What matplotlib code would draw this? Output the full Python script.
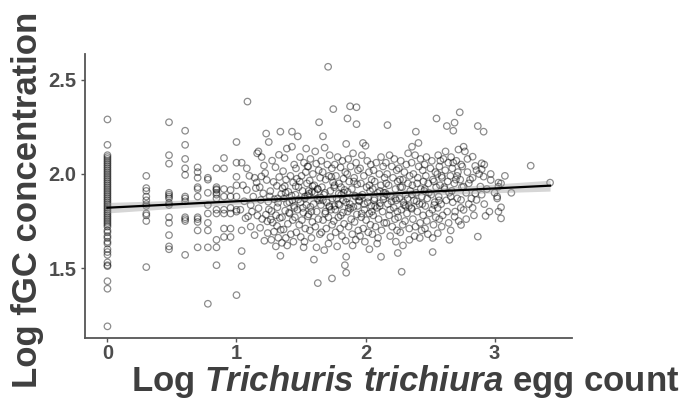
import numpy as np
import matplotlib.pyplot as plt

# ---- data ----
# discrete columns at log10(1..10) egg counts
col_x = [0.0, 0.301, 0.477, 0.602, 0.699, 0.778, 0.845, 0.903, 0.954, 1.0]
col_y = [
    [2.29, 2.155, 2.10, 2.09, 2.08, 2.07, 2.06, 2.05, 2.04, 2.03,
     2.02, 2.01, 2.00, 1.99, 1.98, 1.97, 1.96, 1.95, 1.94, 1.93, 1.92, 1.91,
     1.90, 1.89, 1.88, 1.87, 1.86, 1.85, 1.84, 1.83, 1.82, 1.81, 1.80, 1.79,
     1.78, 1.77, 1.76, 1.75, 1.74, 1.73, 1.72, 1.70, 1.69, 1.67, 1.66, 1.64,
     1.63, 1.60, 1.585, 1.57, 1.53, 1.515, 1.51, 1.43, 1.39, 1.19],
    [1.99, 1.925, 1.91, 1.88, 1.86, 1.84, 1.83, 1.79, 1.78, 1.75, 1.505],
    [2.275, 2.10, 2.055, 1.90, 1.89, 1.88, 1.87, 1.845, 1.835, 1.77, 1.74,
     1.675, 1.615, 1.60],
    [2.23, 2.155, 2.08, 2.03, 1.995, 1.88, 1.87, 1.855, 1.77, 1.76, 1.75, 1.57],
    [2.035, 2.01, 1.98, 1.93, 1.92, 1.88, 1.77, 1.76, 1.745, 1.70, 1.61],
    [1.98, 1.97, 1.90, 1.835, 1.79, 1.74, 1.70, 1.61, 1.31],
    [2.03, 1.93, 1.92, 1.915, 1.90, 1.89, 1.87, 1.81, 1.79, 1.65, 1.61, 1.515],
    [2.085, 2.03, 1.92, 1.88, 1.81, 1.79, 1.71, 1.665],
    [1.915, 1.88, 1.82, 1.79, 1.71, 1.665],
    [2.17, 2.06, 1.985, 1.94, 1.88, 1.81, 1.80, 1.356],
]

# continuous part of the cloud (x > 1)
cloud_x = [
    1.04, 1.08, 1.10, 1.14, 1.05, 1.08, 1.13, 1.085, 1.06, 1.11, 1.12, 1.04,
    1.14, 1.04, 1.04, 1.07, 1.11, 1.15, 1.03, 1.09,
    1.17, 1.195, 1.18, 1.16, 1.23, 1.25, 1.213, 1.222, 1.156, 1.207, 1.188,
    1.246, 1.171, 1.228, 1.199, 1.239, 1.183, 1.242, 1.216, 1.234, 1.162,
    1.251, 1.193,
    1.34, 1.276, 1.302, 1.331, 1.287, 1.313, 1.262, 1.347, 1.293, 1.322,
    1.271, 1.306, 1.336, 1.281, 1.314, 1.343, 1.27, 1.305, 1.34, 1.324,
    1.291, 1.352, 1.258, 1.329, 1.317, 1.266,
    1.39, 1.43, 1.43, 1.372, 1.447, 1.361, 1.418, 1.384, 1.439, 1.356, 1.402,
    1.427, 1.368, 1.391, 1.445, 1.377, 1.412, 1.353, 1.436, 1.398, 1.365,
    1.421, 1.382, 1.441, 1.393, 1.374, 1.433, 1.407,
    1.475, 1.54, 1.492, 1.523, 1.461, 1.537, 1.504, 1.468, 1.546, 1.481,
    1.512, 1.457, 1.529, 1.496, 1.541, 1.472, 1.518, 1.453, 1.507, 1.486,
    1.533, 1.464, 1.498, 1.527, 1.52, 1.55, 1.479, 1.514, 1.459,
    1.61, 1.64, 1.573, 1.618, 1.556, 1.637, 1.592, 1.648, 1.567, 1.603,
    1.629, 1.584, 1.552, 1.641, 1.597, 1.574, 1.622, 1.559, 1.634, 1.588,
    1.611, 1.569, 1.646, 1.581, 1.62, 1.60, 1.63, 1.606, 1.563, 1.627,
    1.591, 1.553,
    1.71, 1.67, 1.75, 1.683, 1.722, 1.657, 1.704, 1.739, 1.668, 1.716, 1.691,
    1.748, 1.662, 1.727, 1.678, 1.743, 1.699, 1.654, 1.733, 1.687, 1.712,
    1.671, 1.741, 1.696, 1.659, 1.728, 1.68, 1.74, 1.713, 1.651, 1.719,
    1.686, 1.736,
    1.86, 1.85, 1.784, 1.821, 1.762, 1.806, 1.843, 1.771, 1.829, 1.794,
    1.757, 1.838, 1.812, 1.776, 1.849, 1.798, 1.766, 1.825, 1.789, 1.754,
    1.834, 1.803, 1.768, 1.817, 1.846, 1.78, 1.85, 1.84, 1.85, 1.792, 1.759,
    1.827, 1.808,
    1.88, 1.93, 1.93, 1.903, 1.866, 1.927, 1.884, 1.941, 1.858, 1.912, 1.873,
    1.936, 1.894, 1.861, 1.918, 1.947, 1.879, 1.906, 1.862, 1.933, 1.889,
    1.915, 1.869, 1.944, 1.897, 1.924, 1.90, 1.856, 1.921, 1.882, 1.939,
    1.98, 2.00, 1.972, 2.013, 2.041, 1.958, 2.026, 1.987, 2.047, 1.964,
    2.008, 2.035, 1.976, 2.019, 1.953, 2.044, 1.991, 2.029, 1.967, 2.004,
    2.038, 1.982, 2.021, 1.957, 2.03, 1.995, 2.016, 1.961, 2.049,
    2.12, 2.083, 2.136, 2.062, 2.107, 2.148, 2.071, 2.119, 2.056, 2.094,
    2.141, 2.067, 2.113, 2.088, 2.132, 2.059, 2.101, 2.145, 2.077, 2.124,
    2.053, 2.097, 2.12, 2.09, 2.138, 2.074, 2.111,
    2.17, 2.186, 2.223, 2.158, 2.204, 2.241, 2.167, 2.213, 2.249, 2.179,
    2.232, 2.153, 2.196, 2.238, 2.172, 2.219, 2.247, 2.183, 2.228, 2.162,
    2.207, 2.244, 2.191, 2.235, 2.25, 2.201, 2.164,
    2.273, 2.316, 2.258, 2.301, 2.342, 2.267, 2.329, 2.283, 2.347, 2.311,
    2.262, 2.294, 2.336, 2.277, 2.321, 2.253, 2.306, 2.288, 2.339, 2.269,
    2.34, 2.28, 2.29, 2.33, 2.298, 2.325,
    2.39, 2.41, 2.36, 2.384, 2.426, 2.357, 2.412, 2.443, 2.371, 2.405,
    2.449, 2.363, 2.428, 2.391, 2.437, 2.376, 2.418, 2.354, 2.401, 2.446,
    2.367, 2.423, 2.387, 2.434, 2.42, 2.38, 2.396, 2.359,
    2.55, 2.472, 2.514, 2.458, 2.503, 2.541, 2.467, 2.522, 2.486, 2.547,
    2.455, 2.509, 2.478, 2.536, 2.463, 2.518, 2.494, 2.544, 2.475, 2.527,
    2.461, 2.52, 2.52, 2.483, 2.532,
    2.63, 2.563, 2.604, 2.641, 2.572, 2.618, 2.556, 2.593, 2.637, 2.577,
    2.612, 2.648, 2.567, 2.626, 2.586, 2.559, 2.633, 2.598, 2.571, 2.644,
    2.56, 2.65, 2.59,
    2.73, 2.69, 2.68, 2.76, 2.72, 2.663, 2.704, 2.741, 2.672, 2.716, 2.657,
    2.734, 2.688, 2.747, 2.668, 2.74, 2.711, 2.676, 2.738, 2.694, 2.69, 2.74,
    2.66, 2.722,
    2.77, 2.83, 2.85, 2.76, 2.76, 2.79, 2.81, 2.78, 2.82, 2.80, 2.84, 2.78,
    2.85, 2.80, 2.83,
    2.87, 2.915, 2.90, 2.90, 2.915, 2.89, 2.90, 2.86, 2.93, 2.87, 2.88, 2.92,
    2.94,
    2.97, 3.03, 3.03, 3.02, 3.05, 3.03, 3.05, 2.96, 3.0, 3.02,
    3.13, 3.28, 3.43,
]
cloud_y = [
    2.06, 2.03, 1.99, 1.98, 1.94, 1.915, 1.88, 2.385, 1.855, 1.835, 1.80, 1.70,
    1.675, 1.59, 1.51, 1.765, 1.72, 1.925, 1.81, 1.775,
    2.12, 2.09, 1.93, 2.11, 2.215, 2.17, 2.045, 2.005, 1.955, 1.897, 1.862,
    1.853, 1.818, 1.784, 1.761, 1.748, 1.714, 1.686, 1.645, 1.968, 1.779,
    1.812, 1.987,
    2.225, 2.071, 2.036, 1.984, 1.958, 1.937, 1.909, 1.893, 1.866, 1.847,
    1.803, 1.781, 1.766, 1.742, 1.724, 1.703, 1.65, 1.615, 1.565, 1.661,
    1.693, 1.634, 1.881, 2.102, 1.823, 1.758,
    2.135, 2.145, 2.225, 2.085, 2.05, 2.015, 1.99, 1.97, 1.955, 1.925, 1.905,
    1.885, 1.87, 1.845, 1.83, 1.805, 1.79, 1.77, 1.755, 1.735, 1.705, 1.68,
    1.66, 1.64, 1.62, 1.935, 1.86, 1.795,
    2.20, 2.135, 2.09, 2.06, 2.03, 2.01, 1.99, 1.975, 1.95, 1.93, 1.91, 1.89,
    1.87, 1.85, 1.835, 1.81, 1.795, 1.77, 1.755, 1.73, 1.71, 1.69, 1.665,
    1.64, 1.61, 2.04, 1.865, 1.82, 1.935,
    2.12, 2.275, 2.08, 2.055, 2.04, 2.02, 2.00, 1.98, 1.965, 1.94, 1.92,
    1.905, 1.885, 1.86, 1.84, 1.825, 1.80, 1.785, 1.76, 1.745, 1.72, 1.70,
    1.68, 1.66, 1.61, 1.545, 1.42, 1.90, 1.895, 1.87, 1.935, 1.775,
    2.57, 2.20, 2.345, 2.14, 2.10, 2.07, 2.05, 2.03, 2.01, 1.99, 1.97, 1.955,
    1.93, 1.91, 1.89, 1.87, 1.85, 1.835, 1.81, 1.79, 1.77, 1.755, 1.73, 1.71,
    1.69, 1.665, 1.595, 1.445, 1.63, 1.875, 1.825, 1.90, 1.985,
    2.295, 2.16, 2.09, 2.07, 2.05, 2.035, 2.01, 1.99, 1.975, 1.95, 1.93,
    1.915, 1.89, 1.87, 1.85, 1.835, 1.81, 1.795, 1.77, 1.75, 1.735, 1.71,
    1.69, 1.67, 1.645, 1.615, 1.56, 1.515, 1.475, 1.895, 1.83, 1.86, 1.78,
    2.36, 2.355, 2.265, 2.11, 2.08, 2.06, 2.04, 2.02, 2.00, 1.98, 1.96, 1.945,
    1.92, 1.905, 1.885, 1.86, 1.84, 1.825, 1.80, 1.785, 1.76, 1.745, 1.72,
    1.70, 1.68, 1.65, 1.62, 1.87, 1.88, 1.815, 1.83,
    2.165, 2.15, 2.10, 2.07, 2.05, 2.03, 2.01, 1.99, 1.97, 1.95, 1.93, 1.91,
    1.89, 1.875, 1.855, 1.83, 1.81, 1.79, 1.77, 1.755, 1.73, 1.71, 1.69,
    1.67, 1.60, 1.64, 1.85, 1.88, 1.80,
    2.09, 2.06, 2.04, 2.02, 2.00, 1.98, 1.96, 1.94, 1.92, 1.90, 1.88, 1.86,
    1.845, 1.82, 1.80, 1.78, 1.76, 1.74, 1.72, 1.70, 1.68, 1.66, 1.56, 1.63,
    1.865, 1.83, 1.91,
    2.26, 2.10, 2.08, 2.06, 2.04, 2.02, 2.00, 1.98, 1.96, 1.94, 1.92, 1.90,
    1.88, 1.86, 1.84, 1.82, 1.80, 1.78, 1.76, 1.74, 1.72, 1.70, 1.67, 1.64,
    1.58, 1.855, 1.89,
    2.07, 2.05, 2.03, 2.01, 1.99, 1.97, 1.95, 1.93, 1.91, 1.89, 1.87, 1.85,
    1.83, 1.81, 1.79, 1.77, 1.75, 1.73, 1.71, 1.69, 1.65, 1.48, 1.62, 2.11,
    1.835, 1.87,
    2.225, 2.165, 2.145, 2.10, 2.08, 2.06, 2.04, 2.02, 2.00, 1.98, 1.96, 1.94,
    1.92, 1.90, 1.88, 1.86, 1.84, 1.82, 1.80, 1.78, 1.76, 1.74, 1.72, 1.70,
    1.66, 1.67, 1.855, 1.815,
    2.295, 2.09, 2.07, 2.05, 2.03, 2.01, 1.99, 1.97, 1.95, 1.93, 1.91, 1.89,
    1.87, 1.85, 1.83, 1.81, 1.79, 1.77, 1.75, 1.73, 1.71, 1.66, 1.585, 1.68,
    1.835,
    2.255, 2.10, 2.08, 2.06, 2.04, 2.02, 2.00, 1.98, 1.96, 1.94, 1.92, 1.90,
    1.88, 1.86, 1.84, 1.82, 1.80, 1.78, 1.76, 1.74, 1.685, 1.65, 1.72,
    2.328, 2.273, 2.23, 2.145, 2.13, 2.09, 2.07, 2.05, 2.03, 2.01, 1.99, 1.97,
    1.95, 1.93, 1.91, 1.862, 1.87, 1.85, 1.82, 1.80, 1.773, 1.729, 1.70, 1.75,
    2.12, 2.092, 2.043, 1.933, 1.809, 2.01, 1.97, 1.90, 1.87, 1.84, 1.78, 1.76,
    1.897, 1.95, 1.82,
    2.255, 2.225, 2.057, 2.025, 1.986, 1.933, 1.89, 1.862, 1.777, 1.667, 2.0,
    1.84, 1.92,
    1.968, 1.954, 1.933, 1.88, 1.823, 1.80, 1.764, 1.80, 1.90, 1.87,
    1.90, 2.044, 1.954,
]

# extra points in the densest part of the cloud
core_x = [1.32, 1.38, 1.45, 1.49, 1.53, 1.58, 1.63, 1.67, 1.72, 1.76, 1.79,
          1.83, 1.87, 1.91, 1.95, 1.99, 2.03, 2.07, 2.11, 2.16, 2.19, 2.23,
          2.27, 2.31, 2.36, 2.40, 2.44, 2.49, 2.53, 2.57, 2.61, 2.66, 2.70,
          1.41, 1.56, 1.69, 1.81, 1.97, 2.14, 2.29, 2.46, 2.59,
          2.62, 2.68, 2.75, 2.79, 2.86, 2.92, 2.97, 3.05, 2.71, 2.58, 2.83, 3.08]
core_y = [1.87, 1.90, 1.82, 1.96, 1.88, 1.80, 1.92, 1.86, 1.83, 1.94, 1.84,
          1.90, 1.82, 1.96, 1.88, 1.84, 1.94, 1.87, 1.83, 1.95, 1.81, 1.87,
          1.93, 1.83, 1.89, 1.95, 1.84, 1.90, 1.96, 1.86, 1.93, 1.88, 1.97,
          1.85, 1.91, 1.80, 1.93, 1.79, 1.90, 1.97, 1.92, 1.99,
          2.12, 2.06, 2.04, 2.08, 2.02, 2.05, 2.00, 1.95, 1.99, 2.07, 1.98, 1.99]

x_ticks = [0, 1, 2, 3]
y_ticks = [1.5, 2.0, 2.5]
y_tick_labels = ['1.5', '2.0', '2.5']

egg = np.concatenate([np.full(len(v), c) for c, v in zip(col_x, col_y)]
                     + [cloud_x, core_x])
fgc = np.concatenate([np.array(v) for v in col_y] + [cloud_y, core_y])

# ---- fonts ----
plt.rcParams['font.family'] = ['Liberation Sans', 'DejaVu Sans']
plt.rcParams['mathtext.fontset'] = 'custom'
plt.rcParams['mathtext.it'] = 'Liberation Sans:bold:italic'
plt.rcParams['mathtext.rm'] = 'Liberation Sans:bold'

fig = plt.figure(figsize=(6.84, 4.0), dpi=100)
ax = fig.add_axes([85 / 684, 1 - 338 / 400, (572 - 85) / 684, (338 - 54) / 400])

ax.scatter(egg, fgc, s=22, facecolors='none', edgecolors=(0, 0, 0, 0.45),
           linewidths=0.9, zorder=2)

# linear fit with 95% band
slope, icept = np.polyfit(egg, fgc, 1)
n = len(egg)
resid = fgc - (icept + slope * egg)
s = np.sqrt(np.sum(resid ** 2) / (n - 2))
xs = np.linspace(0, egg.max(), 100)
se = s * np.sqrt(1 / n + (xs - egg.mean()) ** 2 / np.sum((egg - egg.mean()) ** 2))
ys = icept + slope * xs
ax.fill_between(xs, ys - 1.96 * se, ys + 1.96 * se, color='#999999', alpha=0.4,
                lw=0, zorder=3)
ax.plot(xs, ys, color='black', lw=1.6, zorder=4)

ax.set_xlim(-0.174, 3.60)
ax.set_ylim(1.128, 2.638)
ax.set_xticks(x_ticks)
ax.set_xticklabels([str(t) for t in x_ticks])
ax.set_yticks(y_ticks)
ax.set_yticklabels(y_tick_labels)

for side in ['top', 'right']:
    ax.spines[side].set_visible(False)
for side in ['left', 'bottom']:
    ax.spines[side].set_color('#555555')
    ax.spines[side].set_linewidth(1.3)
ax.tick_params(length=3, width=1, color='#555555', labelcolor='#4d4d4d',
               labelsize=14.5, pad=3)
ax.tick_params(axis='x', pad=1.5)
for lab in ax.get_xticklabels() + ax.get_yticklabels():
    lab.set_fontweight('bold')

fig.text(28 / 684, 0.5, 'Log fGC concentration', rotation=90, ha='center',
         va='center', fontsize=25, fontweight='bold', color='#3f3f3f')
fig.text(680 / 684, 1 - 391 / 400,
         r'Log $\mathit{Trichuris\ trichiura}$ egg count', ha='right',
         va='baseline', fontsize=25, fontweight='bold', color='#3f3f3f')

fig.savefig('out.png', dpi=100)
